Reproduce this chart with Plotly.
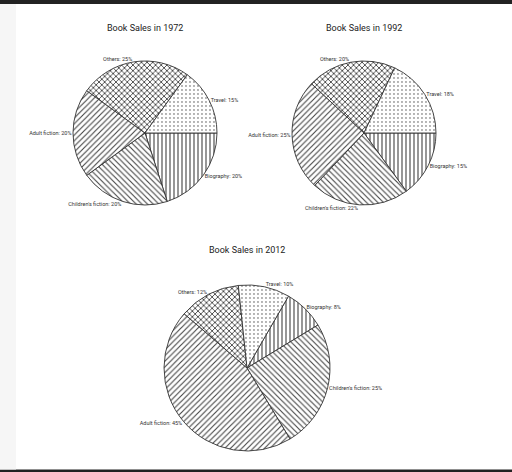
import plotly.graph_objects as go

categories = ["Biography", "Children's fiction", "Adult fiction", "Others", "Travel"]
sales_1972 = [20, 20, 20, 25, 15]
sales_1992 = [15, 22, 25, 20, 18]
sales_2012 = [8, 25, 45, 12, 10]
titles = ["Book Sales in 1972", "Book Sales in 1992", "Book Sales in 2012"]
patterns = ["|", "\\", "/", "x", "."]
pattern_solidity = [0.28, 0.28, 0.28, 0.4, 0.1]

W, H = 512, 472

def px_dom(cx, cy, r):
    return dict(x=[(cx - r) / W, (cx + r) / W], y=[1 - (cy + r) / H, 1 - (cy - r) / H])

pies = [
    (sales_1972, 145, 133, 72, 90),
    (sales_1992, 364, 133, 72, 90),
    (sales_2012, 247, 368, 83, 30),
]

fig = go.Figure()
for vals, cx, cy, r, rot in pies:
    fig.add_trace(go.Pie(
        labels=categories, values=vals, sort=False, direction="clockwise",
        rotation=rot, domain=px_dom(cx, cy, r),
        textposition="outside", texttemplate="%{label}: %{value}%",
        textfont=dict(size=5.5, color="#333", family="Roboto"),
        automargin=False, showlegend=False, hoverinfo="label+value",
        marker=dict(colors=["white"] * 5,
                    line=dict(color="#333", width=0.9),
                    pattern=dict(shape=patterns, fgcolor="#444", bgcolor="white",
                                 size=4, solidity=pattern_solidity)),
    ))

title_pos = [(145, 28), (364, 28), (247, 250)]
for t, (x, y) in zip(titles, title_pos):
    fig.add_annotation(text=t, x=x / W, y=1 - y / H, xref="paper", yref="paper",
                       xanchor="center", yanchor="middle",
                       showarrow=False, font=dict(size=9, color="#222", family="Roboto"))

fig.update_layout(
    width=W, height=H, margin=dict(l=0, r=0, t=0, b=0),
    paper_bgcolor="white", plot_bgcolor="white",
    shapes=[
        dict(type="rect", xref="paper", yref="paper", x0=0, x1=1, y0=1 - 4 / H, y1=1,
             fillcolor="#222", line=dict(width=0), layer="below"),
        dict(type="rect", xref="paper", yref="paper", x0=0, x1=1, y0=0, y1=2.5 / H,
             fillcolor="#222", line=dict(width=0), layer="below"),
        dict(type="rect", xref="paper", yref="paper", x0=0, x1=16 / W, y0=2.5 / H, y1=1 - 4 / H,
             fillcolor="#f6f6f6", line=dict(width=0), layer="below"),
    ],
)
fig.write_html("out.html", config={"displayModeBar": False},
               post_script="document.body.style.margin='0';document.body.style.overflow='hidden';")
